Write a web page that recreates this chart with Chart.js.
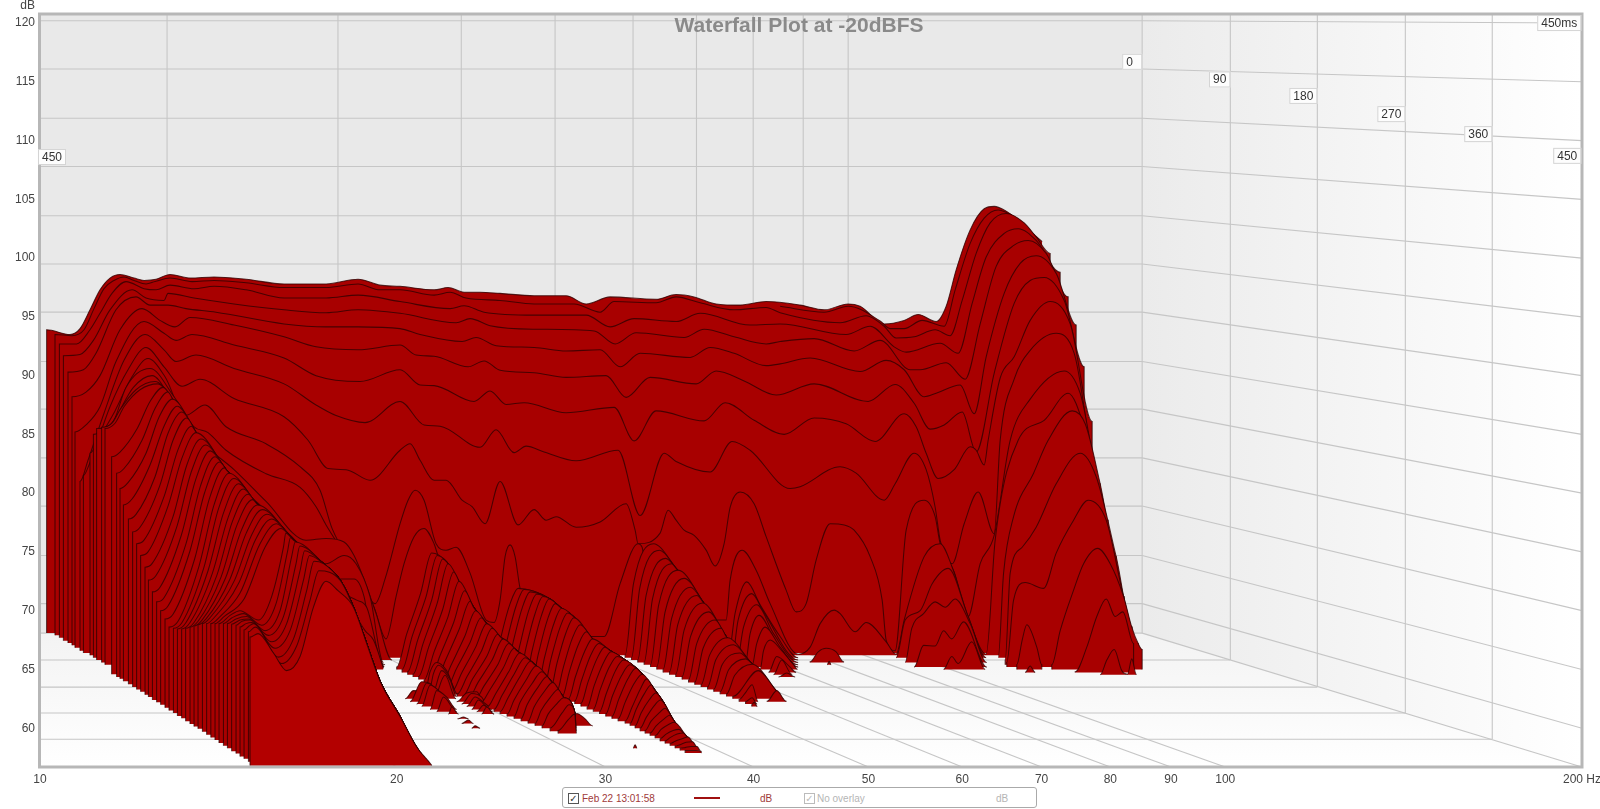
<!DOCTYPE html>
<html><head><meta charset="utf-8">
<style>
html,body{margin:0;padding:0;background:#fff;width:1600px;height:809px;overflow:hidden;font-family:"Liberation Sans",Arial,sans-serif}
canvas{display:block;position:absolute;left:0;top:0}
#lg{position:absolute;left:562px;top:787px;width:475px;height:21px;border:1px solid #aaa;border-radius:3px;background:#fff;box-sizing:border-box;font-size:10px}
#lg span{position:absolute;top:5px;white-space:nowrap}
#lg i{position:absolute;top:5px;width:9px;height:9px;border:1px solid #555;font:normal 10px/9px "DejaVu Sans";text-align:center;color:#333}
</style>
<script src="https://cdn.jsdelivr.net/npm/chart.js@4"></script>
</head><body>
<canvas id="c" width="1600" height="809"></canvas>
<div id="lg">
<i style="left:5px">&#10003;</i><span style="left:19px;color:#a03a3a">Feb 22 13:01:58</span>
<b style="position:absolute;left:131px;top:9px;width:26px;height:2px;background:#a01010"></b>
<span style="left:197px;color:#a03a3a">dB</span>
<i style="left:241px;border-color:#bbb;color:#bbb">&#10003;</i><span style="left:254px;color:#b5b5b5">No overlay</span>
<span style="left:433px;color:#b5b5b5">dB</span>
</div>
<script>
// ---- axes ----
const tickHz=[10,20,30,40,50,60,70,80,90,100,200];
const tickDb=[60,65,70,75,80,85,90,95,100,105,110,115,120];
// ---- room grid, read as apparent Hz / dB ----
const backHz=[12.8,17.84,22.67,27.2,31.65,35.8,39.97,44.05,48.07,85.1];
const frontHz=[20,30,40,50,60,70,80,90,100,200];
const backDb=[70.6,74.7,78.9,83,87.15,91.2,95.4,99.5,103.6,107.8,111.9,116.09,120.2];
const crossHz=[101,119.6,141.9,168];
const crossDb=[65.8,63.5,61.3,59.06];
const timeLabels=['0','90','180','270','360','450'];
const timeHz=[85.1,101,119.6,141.9,168,199.7];
const timeDb=[116.7,115.2,113.8,112.25,110.55,108.7];
// ---- floor level of each time slice, dB ----
const floorDb=[68.1,67.9,67.7,67.45,67.25,67.05,66.85,66.6,66.4,66.2,66,65.8,65.6,65.4,65.2,65,64.75,64.55,64.35,64.15,63.9,63.7,63.5,63.3,63.1,62.9,62.7,62.5,62.25,62.05,61.85,61.6,61.4,61.2,61,60.8,60.6,60.4,60.2,60,59.75,59.55,59.35,59.15,58.9,58.7,58.5,58.3,58.1,57.9,57.65,57.45,57.25,57.05,56.85,56.65];
// ---- floor level under the low-frequency bars, one per hump slice ----
const humpFloorDb={17:64.6,19:64.35,20:64.2,21:64,22:63.75,23:63.5,24:63.3,25:63.1,26:62.85,27:62.65,28:62.4,29:62.2,30:62,31:61.75,33:61.5,34:61.3,35:61.05,36:60.85,37:60.6,38:60.35,39:60.15,40:59.95,41:59.7,43:59.45,44:59.2,45:59,46:58.75,47:58.5,48:58.3,49:58.05,50:57.85,51:57.6,52:57.4,53:57.15,55:56.8};
// ---- slices: flat lists of frequency-bin, dB ----
const backSlices={
0:[[3.3,93.9,15,93.5,20,94,25,95.6,30,97.3,35,98.3,40,98.6,47,98.3,52,98.1,58,98.2,65,98.6,75,98.3,87,98.4,103,98.2,122,97.8,143,97.8,159,98.2,170,97.7,180,97.6,197,97.3,204,97.5,212,97.1,220,97.1,230,97,247,96.8,263,96.8,273,96.1,285,96.7,308,96.5,318,96.9,327,96.7,338,96.1,350,96,363,96.3,380,96,392,95.6,404,96.1,410,95.9,422,94.4,432,94.7,439,95.2,448,94.6,453,95.9,458,99,465,102.4,472,104.2,477,104.4,483,104,492,102.8,497,102]],
1:[[7.5,93.5,16,93.4,22,93.9,27,95.7,32,97.4,37,98.1,42,98.4,47,98.1,53,97.8,57.5,98,65,98.3,76,98,87,98.1,103,97.9,122,97.5,143,97.5,159,97.8,170,97.3,180,97.3,197,96.85,205,97.1,213,96.6,230,96.4,247,96.1,267,96.1,280,95.4,287,96.3,308,96.2,318,96.7,330,96.2,347,95.6,363,95.8,370,95.35,400,94.5,413,95.1,422,94.2,428,93.2,437,93.3,447.5,93.9,455,93.4,461,96.4,468,100.4,475,103,483,103.8,492,103,498,101.8,505,100.4]],
2:[[9.7,92.7,18.3,92.7,25,93.9,30,95.3,36,97,43,98,52,97.4,58,97.3,65,97.7,77,97.4,87,97.6,103,97.3,122,96.6,143,96.6,159,96.85,180,96.3,205,95.7,212,95.95,222,95.4,247,95.15,273,95.15,285,94.15,297,94.85,318,94.6,330,95.3,355,94.3,370,94.4,403,93.5,415,94.2,427,92.45,433,92,450,92.75,459,91.9,466,96.15,473,100.1,482,102.1,489,102.5,498,101.5,510,98.8]],
3:[[11.7,91.7,20,91.8,26.7,93,35,95.6,46,97.3,53,96.6,62,96.4,64,97,77,96.6,97,96.1,122,95.6,143,95.35,159,95.6,180,95.3,208,94.5,215,94.85,225,94.25,247,93.95,277,93.8,287.5,92.7,298,93.65,322,93.25,332,93.95,347,93.3,363,92.7,370,92.9,387,93.15,407,92.1,420,93,435,90.5,440,90.5,453,91.1,462.5,89.7,470,94.4,478,99.3,487,101.1,494,101.5,503,100.4,514,96.7]],
4:[[14,90.3,21.7,90.5,28,91.9,38,95.6,48,96.7,55,96,64,96,73,95.7,88,95.4,122,94.4,143,94.15,159,94.15,180,94,190,93.5,211,92.9,218,93.25,228,92.55,247,92.4,263,92.1,280,92.2,290,90.75,300,91.9,325,91.55,335,92.4,347,91.9,363,90.85,370,91,385,91.5,410,90.35,423,91.3,432,90.5,442,88.2,448,88.5,460,89.2,467,86.75,473,91.6,482,97,490,99.55,498,100.2,508,98.7,518,94.3]],
5:[[16,88.2,23,88.6,30,90,40,93.9,51,95.7,60,94.7,67.5,94.15,75,94.95,97,94.3,122,93.3,138,92.45,159,92.2,180,92.6,188,91.75,197,91.65,214,90.75,222,91.25,230,90.45,247,90.25,263,89.85,283,90,293,88.15,305,89.85,328,89.3,338,90.4,352,89.55,368,88.35,387,89.3,414,87.8,427.5,89.25,437,87.65,445,85.45,452,85.8,461,86.9,468,83.5,477,90.2,487,96.15,495,98.1,502,98.35,512,96.4,522,90.75]],
6:[[17.5,85.2,23,85.8,30,87.35,38,91.2,52,94.6,62,93.6,68,93,76,93.5,97,92.6,122,91.5,138,90,160,89.5,180,90.5,190,89.2,197,89.15,217,87.8,225,88.7,233,87.55,242,87.7,263,86.85,287,87.3,297,84.45,308,87,332,86.15,342.5,87.7,357,86.2,372,85,387,86.4,403,85.9,417.5,84.4,432,86.75,438,85.65,443,83.4,449,81.25,457,82,465,83.95,468,83.65,472,82.4,474,84.5,480,89.8,487,91.6,495,94.7,505,96.3,515,94.4,526,86.1]],
7:[[20,81,24,82.8,32,86.8,42,91.3,52.5,93.5,62,92.2,68,91.2,78,91.75,97,90.6,122,89.3,138,87.5,148,86.6,162.5,86,180,87.8,192,85.8,200,85.7,220,83.9,228,85.4,237,83.45,243,84,252,83.5,268,82.75,289,83.65,300,78.1,312,83.4,318,82.7,335,81.8,346,84.4,355,83.65,375,80.4,380,80.55,400,82.25,408,81.7,422,79.4,427.5,80.8,437,83.4,443,82,447.5,78.8,450,76,456,74,462,77.4,469,80.1,477,76.55,480,84.5,487,89.7,495,92.15,508,93.6,517,91.9,530,80.8]],
8:[[21.7,81.5,24.5,82.4,35,87.35,44,90.5,53,92.4,62,90.75,71,89.1,80,89.7,97,88.05,122,86.5,134,84.5,144,82.1,153,82,165,81.1,180,83.65,185,84.2,190,82.8,197,81.1,203,81.1,211,79.4,216,78.85,222.5,77.4,230,81,239,77.3,247,78.6,253,77.7,258,78,268,77.1,280,77.55,293,79.1,297.5,76.85,299,75.7,310,76.6,314,78.55,318,77.7,322,76.85,327,76.4,333,75.15,337.5,73.8,342,75.7,345,78.8,350,80.1,357,79.1,363,76.3,373,71.75,378,69.9,383,70.6,388,74.3,395,77.4,402,77.3,407,76.85,415,74.6,421,70.9,423,67.5,427.5,66.6,433,76.85,442,79.4,447.5,78,450,75.7,457,73.3,464,69.5,470,74,477,76.4,485,84.5,495,88,512,90.4,520,88.5,534,77.7]],
9:[[25,83.4,30,84.8,37.5,87,46,89.9,54,91.45,62.5,89.9,72.5,86.6,82.5,87.5,93,85.65,113,84.2,130,82.25,140,80.25,146,77,158,73.4,167.5,70.6,172.5,72.7,180,77.4,184,79.4,187.5,80.25,192,79.4,198,75.7,203,75.15,208,75.4,215,73.2,223,69.2,227,69,230,70.9,232.5,74.6,235,75.6,237.5,74.6,240,71.9,250,68,282,67.8,290,72.3,299,75.7,301,75.4,303,73.4,320,70,343,69.2,345,72.6,351,75.15,358,73.45,365,70.6,379,66.3,385,66.9,390,68.9,397,70.05,400,69.75,407.5,68.2,413,69,423,67.35,428,66.3,432,69.2,442,74.6,450,75.7,456,73.7,464,69.5,473,66.3,477.5,76,489,84.5,502,86.2,514,88.5,522.5,85.35,538,74.6]],
10:[[26.7,85,33,85.5,37,86.2,43,89,55,90.6,67,88.2,77,85.65,84,85.15,93,83.65,113,81.65,130,80.5,138,78.85,143,77.3,153,74.6,162,72,167,70.3,173,67.6,178,71.2,182,74,187,76.3,192,77,197,75.7,199,74.7,207,72.9,218,70,223,68.9,232,67.4,242,66],[428,66,432.5,69.2,440,70,446,72.3,454,73.6,464,69.5,473,66],[479,66,481.7,73.2,486.7,78,496.7,81.7,504,84.5,516,87,522.5,85.9,530,80.8,542,71.2]],
11:[[28.3,85.5,35,85.8,38,86.5,46.7,89,56,90,67,87.6,80,84.5,97,82,113,79.3,133,76,143,76.15,152,75.85,157,74.7,163,72.2,168,69.75,176,65.8]],
12:[[30.8,85.6,36,85.95,40,87.1,48,88.8,57.5,89.5,67,87.8,80,84.5,97,81.1,125,76.4,130,75.15,137.5,74,143,74,152,74.7,158,74,165,71.2,171.7,65.6],[432.5,65.6,435.8,68.5,441.7,69.75,447.5,70.75,452.5,70.3,457.5,71,465,68.9,473.3,65.6],[385,65.65,389,66.5,393,66.8,398,66.5,401.7,65.65]],
13:[[32.5,85.5,37.5,85.95,42,87.35,50,88.8,59,89.3,67,87.8,80,84.5,97,81.1,125,76.4,133,75,140,73.9,150,72.7,157,72.7,162,71.2,165,68.3,172.5,65.4],[482.5,65.8,485,73.2,491,75.4,498,77.1,508,80.8,520,83.4,528,81.4,538,74.6,546,68.6],[393.5,65.4,394.5,65.7,395.5,65.4]],
14:[[437,65.2,441.7,67.05,447.5,67,451.7,68.3,455.8,67.6,461.7,69.05,473.3,65.2],[483.3,65.6,486.7,70.9,492.5,72.4,501.7,71.9,508,74.9,516.7,77.7,524,79.4,533,77.7,541.7,71.2,549,67.2]],
15:[[451.7,65,455.8,66.1,459,65.5,465.8,67.35,472.5,65],[488.3,65.4,491,67.5,493.3,68.8,498.3,66.9,500.8,65.4],[505.8,65.4,510,68.3,516.7,71.75,521.7,74,528.7,75.3,535,74,541.7,71.2,545.8,68.6,549,67.2,551,66.7]],
16:[[517.5,64.8,523.3,66.9,528.3,69.5,533,71,537.5,69.5,541.3,69.9,546.7,67.2],[492.5,64.75,495,65.3,497.5,64.75]],
17:[[530,64.55,533.3,65.8,537,66.7,540.8,64.9,543.7,64.6,545.8,65.9,548,64.6]]
};
const openSlices={
0:[370,95.9,392,95.4,404,95.9,420,94.65,425,94,432,94,441,94.7,452,94.2,457.5,97.3,465,101.25,472,103.4,479,104.1,487,103.5,497,102,501,101.4],
14:[80,84.5,97,81,108,78.8,125,76.4,133,75,142,73.6,150,71.7,158.3,70.9,163.3,70.3,170,65.8,172,65.2],
15:[80,84.5,97,81,108,78.8,125,76.4,133,75,142,73.6,153,71,162.5,68.3,166.7,67.5,171.7,65.1]
};
// shared descending edges of the ridges
const ridgeHump=[66.7,87.9,78.3,85.1,93.3,81.95,108.3,79.1,126.7,76,141.7,74,150,72.6,156.7,70.3,163.3,67.2,170,64,180,61,188.3,58.4,195.8,56.85,199,56];
const ridgeLow=[203.3,74.15,210,72.3,216.7,70.3,223.3,68.9,230,67.8,238.3,66.6,246.7,65.5,255,64.1,261.7,62.65,267.5,61.25,268.3,59.25,269,58];
const ridgeMid=[255,71,260,70.3,266.7,69.5,276.7,67.5,285,66.6,291.7,65.9,300,64.8,306.7,63.4,311.7,62.2,316.7,60.7,323.3,59.3,327,58.6,331,57.9,332,57];
const ridgeHigh=[318,73.6,332,70.6,343,67.8,355,65.65,368,63.2,373,62.25,376,61];
const humpLobes={
17:[35.8,83.1,40,83.5,48.6,85.5,55,87.8,61.5,89],19:[38.3,81.7,42,82.1,51,84.5,57.5,87.2,63.9,88.6],20:[40,80.4,44,80.9,53,83.4,59.6,86.5,66.2,88],21:[41.7,79,46,79.5,55,82.4,62,85.7,68.6,87.4],22:[44.2,77.8,48,78.2,57.5,81.4,64,85.1,70.9,86.9],23:[46.3,76.7,50,77.1,59.8,80.6,66.5,84.5,73.3,86.4],24:[48.3,75.7,52,76,62,79.7,69,83.7,75.7,85.7],25:[50.3,74.7,54,75,64,78.9,71,83,78,85.15],26:[52.5,73.7,56,74,66.5,78,73.4,82.4,80.4,84.6],27:[54.2,72.6,58,73,68.5,77.2,75.6,81.8,82.7,84.1],28:[56.2,71.6,60,72,70.6,76.4,77.9,81.2,85.1,83.6],29:[58.3,70.75,62,71.1,73,75.7,80.2,80.6,87.5,83.1],30:[60.3,70,64,70.4,75,75.1,82.4,80.1,89.8,82.65],31:[62.5,69.3,66.5,69.7,77.3,74.4,84.8,79.6,92.2,82.15],33:[64.5,68.6,69,69.1,79.5,73.8,87,79,94.5,81.7],34:[66.7,68.5,71,69,81.8,73.6,89.3,78.7,96.9,81.25],35:[68.7,68.45,73,69,84,73.4,91.7,78.3,99.3,80.8],36:[70.8,68.45,75,69,86.2,73.2,94,77.9,101.6,80.35],37:[72.8,68.5,77,69,88.4,73,96.2,77.6,104,79.9],38:[75,68.6,79,69.1,90.6,72.9,98.5,77.3,106.3,79.45],39:[77,68.7,81,69.2,92.8,72.8,100.8,76.9,108.7,79],40:[79,68.8,83,69.3,95,72.7,103.1,76.6,111.1,78.6],41:[81.2,68.9,85,69.4,97.3,72.6,105.4,76.3,113.4,78.2],43:[83.3,68.9,87,69.4,99.5,72.4,107.6,76,115.8,77.8],44:[85.4,68.9,90,69.5,100,71.5,110,75.7,118.1,77.4],45:[87.5,68.9,92,69.5,102,71,112.5,75.4,120.5,77],
46:[89.5,68.9,95,69.6,100,70,109.2,69.2,115.8,71.2,121.7,75.4,122.9,76.6],47:[91.7,68.9,96,69.4,101.7,69.75,110.8,68.76,118,70.6,123.7,75,125.2,76.2],48:[93.7,68.9,98,69.3,103.3,69.5,112.5,68.3,120,70,125.8,74.6,127.6,75.85],49:[95.8,68.85,100,69.2,104.2,69.3,114.2,67.9,121.7,69.5,128,74,129.9,75.5],50:[98,68.75,101,69.1,105,69.2,115.8,67.35,123.3,68.9,130,73.4,132.3,75.1],51:[100,68.6,103,68.9,105.8,69,117.5,66.8,125,68.3,131.7,72.6,134.7,74.7],52:[102,68.35,104.5,68.7,106.7,68.9,119.2,66.05,126.7,67.6,133.3,71.7,137,74.2],53:[104.2,68.2,107.5,68.6,120.8,65.5,128.3,67,135,70.9,139.4,73.4],55:[105,67.75,109,68.05,116.7,66.4,123.3,64.9,130,66.1,136.7,70.3,143,72.5,149,71.7]
};
const lowLobes={
15:[178.3,65.2,183.3,68,190.3,71.5,195.8,74.9],16:[181,65,186,67.8,193,71.2,198.6,74.7],17:[183.8,64.8,188.8,67.5,195.8,70.9,201.3,74.4],18:[186.5,64.6,191.5,67.2,198.5,70.6,204,74],19:[189.3,64.4,194.3,66.9,201.3,70.1,206.8,73.3],20:[192,64.1,197,66.5,204,69.5,209.5,72.5],21:[194.8,63.9,199.8,66.1,206.8,69,212.3,71.7],22:[197.5,63.7,202.5,65.7,209.5,68.4,215,70.8],23:[200.3,63.5,205.3,65.3,212.3,67.8,217.8,70],24:[203,63.3,208,65,215,67.3,220.5,69.4],25:[205.8,63.1,210.8,64.7,217.8,66.9,223.3,68.9],26:[208.5,62.9,213.5,64.4,220.5,66.5,226,68.5],27:[211.3,62.7,216.3,64.2,223.3,66.1,228.8,68],28:[214,62.5,219,63.9,226,65.8,231.5,67.6],29:[217,62.3,222,63.6,228.8,65.4,234.3,67.2],30:[220,62.1,225,63.3,231.5,65.1,237,66.8],31:[223.5,61.8,228,63,234.3,64.8,239.8,66.4],32:[227,61.6,231,62.8,237,64.6,242.5,66],33:[230,61.4,234,62.6,240,64.4,245.3,65.7],34:[233.5,61.2,237,62.4,243,64.1,248,65.3],35:[237,61,240,62.2,246,63.8,250.8,64.8],36:[240.5,60.8,243.5,62,249,63.5,253.5,64.4],37:[244,60.6,247,61.8,252,63.1,256.3,63.9],38:[247.5,60.4,250.5,61.5,255,62.6,259,63.3],39:[251,60.2,254,61.2,258,62,261.8,62.6],40:[255,60,261,61.3,264.5,62],41:[259,59.8,264,60.7,267.3,61.2]
};
const midLobes={
16:[227,65,230.5,67.8,235,70.6,239,71.9],17:[230,64.8,233.5,67.5,238,70.4,242,71.8],18:[233,64.6,236.5,67.3,241,70.2,245,71.6],19:[236.3,64.4,239.8,67,244.3,70,248.3,71.4],20:[239.4,64.1,242.9,66.8,247.4,69.7,251.4,71.2],21:[242.5,63.9,246,66.6,250.5,69.5,254.5,71],22:[245.6,63.7,249.1,66.3,253.6,69.2,257.6,70.6],23:[248.7,63.5,252.2,66,256.7,68.8,260.7,70.2],24:[251.8,63.3,255.3,65.8,259.8,68.5,263.8,69.8],25:[254.9,63.1,258.4,65.5,262.9,68.1,266.9,69.4],26:[258,62.9,261.5,65.1,266,67.6,270,68.8],27:[261.1,62.7,264.6,64.8,269.1,67.1,273.1,68.2],28:[264.2,62.5,267.7,64.4,272.2,66.5,276.2,67.6],29:[267.3,62.3,270.8,64.1,275.3,66.2,279.3,67.2],30:[270.4,62.1,273.9,63.9,278.4,65.9,282.4,66.9],31:[273.5,61.8,277,63.6,281.5,65.5,285.5,66.5],32:[276.6,61.6,280.1,63.3,284.6,65.2,288.6,66.1],33:[279.7,61.4,283.2,63,287.7,64.9,291.7,65.8],34:[282.8,61.2,286.3,62.8,290.8,64.5,294.8,65.4],35:[285.9,61,289.4,62.5,293.9,64.2,297.9,65.1],36:[289,60.8,292.5,62.2,297,63.8,301,64.6],37:[292.5,60.6,296,61.8,300,63.3,303.3,64.2],38:[295,60.4,298,61.6,302,62.9,305.6,63.7],39:[297.5,60.2,300.5,61.3,304.5,62.4,307.9,63],40:[300,60,303,60.9,307,61.9,310.2,62.4],41:[302.5,59.8,305.5,60.6,309.5,61.3,312.5,61.7],42:[305,59.6,308,60.2,312,60.8,314.8,61.1],43:[307.5,59.35,310.5,59.9,314,60.3,317,60.5],44:[310,59.1,313,59.5,316.5,59.8,319.3,59.9],45:[312.5,58.9,315,59.2,318.5,59.5,321.6,59.6],46:[315,58.7,317.5,58.9,321,59.1,323.9,59.25],47:[317.5,58.5,320,58.6,323,58.8,326.2,58.85],48:[320,58.3,322.5,58.35,325.5,58.45,328.5,58.45],49:[322.5,58.1,325,58.1,328,58.1,330.5,58.05]
};
const highLobes={
10:[292.5,66.2,296.7,72.3,306.7,75.7],11:[295.7,66,299.8,71.9,309.7,75.15],12:[298.8,65.8,303,71.3,312.8,74.45],13:[302,65.6,306.2,71,315.8,74],14:[305.2,65.4,309.3,70.5,319,73.45],15:[308.3,65.2,312.5,69.9,322,72.75],16:[311.5,65,315.7,69.3,325.2,72],17:[314.7,64.8,318.8,68.8,328.3,71.3],18:[317.8,64.6,322,68.35,331.3,70.65],19:[321,64.4,325.2,67.8,334.3,69.9],20:[324.2,64.1,328.3,67.2,337.5,69.2],21:[327.3,63.9,331.5,66.8,340.5,68.5],22:[330.5,63.7,334.7,66.2,343.7,67.7],23:[333.7,63.5,337.8,65.8,346.7,67.1],24:[336.8,63.3,341,65.4,349.8,66.4],25:[340,63.1,344.2,64.95,352.8,65.9],26:[343.2,62.9,347.3,64.5,356,65.45],27:[346.3,62.7,359,64.9]
};
const nestLobes={
10:[344,66,347.5,69.8,353.3,72.45,360,70.5,370,67.8,379,66],11:[345.8,65.8,349,69.2,355.8,71.45,361.7,69.9,379,65.8],12:[348.3,65.6,351.7,68.6,358.3,70.5,366.7,68.05,379,65.6],13:[352.5,65.4,355,68.05,359.5,69.6,368.3,67.2,379,65.4],14:[355.8,65.2,358.3,67.2,362.5,68.6,370,66.9,379,65.2],15:[360,65,361.7,66.6,365,67.5,370.8,66.6,376.7,65.4,378.7,65],16:[364.2,64.75,368.3,66.1,375,65.2,378,64.75],17:[366.7,64.55,370.8,65.8,375.8,64.6],18:[369.2,64.35,373.3,64.7,377.5,64.35]
};
const islandLobes={
24:[[192.5,63.1,195,64.8,198.3,65.6,203.3,64.9,208.3,63.1]],25:[[194.2,62.9,196.7,64.65,199.2,65.35,204.2,64.5,208.7,62.9]],26:[[195.8,62.7,200.8,64.9,205,64.1,208.3,62.7]],27:[[182.5,62.5,186.7,63.2,190,63.1,193.3,62.5],[196.7,62.5,202.5,64.5,208,62.5]],28:[[185,62.25,190.8,63.95,195,63.8,201.7,62.25],[208.3,62.25,213.3,63,218.3,63.1,221.7,62.25],[349.5,62.45,353,63.1,356,63.7,359,62.25],[363.5,62.3,368.3,63.2,373,62.3]],29:[[188.3,62.05,193.3,63.85,199.2,63.2,205,62.05],[210.8,62.05,215.8,62.95,220.8,62.65,223.3,62.05],[352.7,62.25,356,62.6,358.5,62.05]],30:[[190.8,61.85,195,63.65,200.8,62.95,206.7,61.85],[213.3,61.85,217.5,62.65,222.5,62.1,224.7,61.85],[355.8,62,357,62.2,358.6,61.85]],31:[[195,61.6,198.3,63.2,203.3,62.65,208.3,61.6],[215.8,61.6,219.2,62.4,223.3,61.8,225.8,61.6]],32:[[198.3,61.4,201.7,62.65,208.3,61.4],[218.3,61.4,221.7,61.95,226.3,61.4]],33:[[204.2,61.2,205.8,61.8,209.2,61.2],[220.8,61.2,223.3,61.8,227,61.2]],35:[[208.7,60.8,211.7,60.95,214.2,60.8]],37:[[210.8,60.4,214.2,60.7,216.7,60.4]],38:[[265,60.2,268.3,61.25,272.5,60.8,276.3,60.2]],39:[[215.8,60,217.5,60.2,220,60]],47:[[296.5,58.3,297.5,58.6,298.5,58.3]]
};
const BINS_PER_DECADE=592.5;
const hzOf=b=>10*Math.pow(10,b/BINS_PER_DECADE);
const layers=[];
function grid(a,b){layers.push({type:'line',data:[a,b],borderColor:'#c6c6c6',borderWidth:1.1,pointRadius:0,fill:false,tension:0});}
const TOP=120.77,BOTTOM=56.7,BACKFLOOR=68.09;
backHz.forEach((h,k)=>{grid({x:h,y:BACKFLOOR},{x:h,y:TOP});grid({x:h,y:BACKFLOOR},{x:frontHz[k],y:BOTTOM});});
backDb.forEach((d,k)=>{grid({x:10,y:d},{x:85.1,y:d});grid({x:85.1,y:d},{x:200,y:tickDb[k]});});
grid({x:10,y:BACKFLOOR},{x:85.1,y:BACKFLOOR});
crossHz.forEach((h,k)=>{grid({x:10,y:crossDb[k]},{x:h,y:crossDb[k]});grid({x:h,y:crossDb[k]},{x:h,y:TOP});});

function addLobe(i,raw,ridge,open,floor){
  const base=floor===undefined?floorDb[i]:floor,pts=[];
  for(let k=0;k<raw.length;k+=2)pts.push([raw[k],raw[k+1]]);
  if(ridge){
    const last=pts[pts.length-1];let prev=last;
    for(let k=0;k<ridge.length;k+=2){
      const x=ridge[k],y=ridge[k+1];
      if(x<=last[0]+1||y>=last[1])continue;
      if(y>base){pts.push([x,y]);prev=[x,y];}
      else{pts.push([prev[0]+(prev[1]-base)/(prev[1]-y)*(x-prev[0]),base]);break;}
    }
  }
  const data=pts.map(p=>({x:hzOf(p[0]),y:p[1]}));
  if(!open){data.unshift({x:data[0].x,y:base});data.push({x:data[data.length-1].x,y:base});}
  layers.push({type:'line',data,borderColor:'rgba(48,0,0,0.8)',borderWidth:1.05,pointRadius:0,
    cubicInterpolationMode:'monotone',fill:{value:base},backgroundColor:i===55?'#b30000':'#a80000'});
}
for(let i=0;i<floorDb.length;i++){
  (backSlices[i]||[]).forEach(l=>addLobe(i,l));
  if(openSlices[i])addLobe(i,openSlices[i],null,true);
  if(nestLobes[i])addLobe(i,nestLobes[i]);
  if(highLobes[i])addLobe(i,highLobes[i],ridgeHigh);
  if(midLobes[i])addLobe(i,midLobes[i],ridgeMid);
  if(lowLobes[i])addLobe(i,lowLobes[i],ridgeLow);
  (islandLobes[i]||[]).forEach(l=>addLobe(i,l));
  if(humpLobes[i])addLobe(i,humpLobes[i],ridgeHump,false,humpFloorDb[i]);
}
layers.reverse();

const room={id:'room',
 beforeDatasetsDraw(c){
  const g=c.ctx,x=c.scales.x,y=c.scales.y,X=h=>x.getPixelForValue(h),Y=d=>y.getPixelForValue(d);
  g.save();
  g.fillStyle='#e9e9e9';g.fillRect(X(10),Y(TOP),X(85.1)-X(10),Y(BACKFLOOR)-Y(TOP));
  let f=g.createLinearGradient(X(85.1),0,X(200),0);f.addColorStop(0,'#ebebeb');f.addColorStop(1,'#ffffff');
  g.fillStyle=f;g.beginPath();g.moveTo(X(85.1),Y(TOP));g.lineTo(X(200),Y(TOP));g.lineTo(X(200),Y(BOTTOM));g.lineTo(X(85.1),Y(BACKFLOOR));g.closePath();g.fill();
  f=g.createLinearGradient(0,Y(BACKFLOOR),0,Y(BOTTOM));f.addColorStop(0,'#f3f3f3');f.addColorStop(1,'#ffffff');
  g.fillStyle=f;g.beginPath();g.moveTo(X(10),Y(BACKFLOOR));g.lineTo(X(85.1),Y(BACKFLOOR));g.lineTo(X(200),Y(BOTTOM));g.lineTo(X(10),Y(BOTTOM));g.closePath();g.fill();
  g.restore();
 },
 afterDraw(c){
  const g=c.ctx,x=c.scales.x,y=c.scales.y,X=h=>x.getPixelForValue(h),Y=d=>y.getPixelForValue(d);
  g.save();
  g.strokeStyle='#b7b7b7';g.lineWidth=3;g.strokeRect(X(10)-.5,Y(TOP),X(200)-X(10)+.5,Y(BOTTOM)-Y(TOP));
  g.textBaseline='middle';
  const box=(t,r,cy,fs)=>{g.font=fs+'px "Liberation Sans"';const w=Math.max(g.measureText(t).width+8,20),h=16;
    g.fillStyle='#fdfdfd';g.fillRect(r-w,cy-h/2,w,h);g.strokeStyle='#d4d4d4';g.lineWidth=1;g.strokeRect(r-w+.5,cy-h/2+.5,w-1,h-1);
    g.fillStyle='#333';g.textAlign='left';g.fillText(t,r-w+4,cy+.5);};
  timeLabels.forEach((t,k)=>box(t,X(timeHz[k]),Y(timeDb[k]),12));
  box('450ms',X(199.7),Y(120),12);
  const lw=24;box('450',X(10)+2+lw,Y(108.6),12);
  g.fillStyle='#8a8a8a';g.font='bold 21px "Liberation Sans"';g.textAlign='center';g.fillText('Waterfall Plot at -20dBFS',799,26);
  g.fillStyle='#444';g.font='12px "Liberation Sans"';g.textAlign='right';g.fillText('dB',35,6);
  g.restore();
 }};
new Chart(document.getElementById('c'),{type:'line',data:{datasets:layers},plugins:[room],options:{
 responsive:false,animation:false,events:[],
 layout:{padding:{top:14,right:18,left:0,bottom:0}},
 plugins:{legend:{display:false},tooltip:{enabled:false},title:{display:false},filler:{drawTime:'beforeDatasetDraw',propagate:false}},
 scales:{
  x:{type:'logarithmic',min:10,max:200,grid:{display:false,drawTicks:false},border:{display:false},
     afterBuildTicks(s){s.ticks=tickHz.map(v=>({value:v}));},afterFit(s){s.height=42;s.paddingLeft=0;s.paddingRight=0;},
     ticks:{autoSkip:false,maxRotation:0,padding:5,color:'#444',font:{family:'Liberation Sans',size:12},callback:v=>v===200?'200 Hz':String(v)}},
  y:{type:'linear',min:BOTTOM,max:TOP,grid:{display:false,drawTicks:false},border:{display:false},
     afterBuildTicks(s){s.ticks=tickDb.map(v=>({value:v}));},afterFit(s){s.width=40;s.paddingTop=0;s.paddingBottom=0;},
     ticks:{autoSkip:false,padding:5,color:'#444',font:{family:'Liberation Sans',size:12},callback:v=>String(v)}}
 }}});
</script>
</body></html>
